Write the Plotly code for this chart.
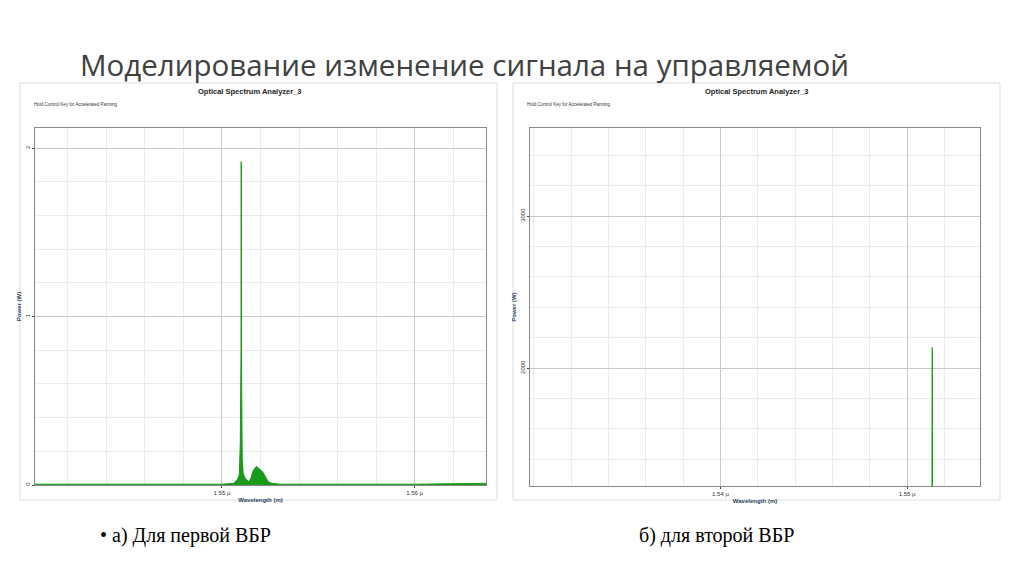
import plotly.graph_objects as go

# Left spectrum (first FBG): wavelength (µm), power (W)
wl_a = [1.5403, 1.5500, 1.5506, 1.5508, 1.55090, 1.55095, 1.55099, 1.55100, 1.55101, 1.55105, 1.5511, 1.5512, 1.5513, 1.5514, 1.5515, 1.5516, 1.5517, 1.5518, 1.5519, 1.5520, 1.5521, 1.5522, 1.5523, 1.5524, 1.5526, 1.5530, 1.5600, 1.5637]
pw_a = [0.005, 0.005, 0.01, 0.03, 0.06, 0.25, 0.8, 1.92, 0.8, 0.15, 0.07, 0.04, 0.03, 0.02, 0.04, 0.08, 0.10, 0.11, 0.10, 0.09, 0.08, 0.06, 0.04, 0.02, 0.01, 0.005, 0.005, 0.01]
# Right spectrum (second FBG)
wl_b = [1.5298, 1.55133, 1.55134, 1.55135, 1.55136, 1.5539]
pw_b = [0, 0, 2138, 2100, 0, 0]

xt_a = [1.55, 1.56]; xl_a = ["1.55 µ", "1.56 µ"]
yt_a = [0, 1, 2]; yl_a = ["0", "1", "2"]
xt_b = [1.54, 1.55]; xl_b = ["1.54 µ", "1.55 µ"]
yt_b = [2000, 3000]; yl_b = ["2000", "3000"]

GREEN = "#1a9a1a"
fig = go.Figure()
fig.add_trace(go.Scatter(x=wl_a, y=pw_a, mode="lines", line=dict(color=GREEN, width=1), fill="tozeroy", fillcolor=GREEN, xaxis="x", yaxis="y", showlegend=False))
fig.add_trace(go.Scatter(x=wl_b, y=pw_b, mode="lines", line=dict(color=GREEN, width=1.2), xaxis="x2", yaxis="y2", showlegend=False))

def ax(mdt):
    return dict(showline=True, linecolor="#888", mirror=True, gridcolor="#c8c8c8", ticks="outside", ticklen=2,
                tickfont=dict(size=6, family="Liberation Sans", color="#333"), zeroline=False,
                minor=dict(showgrid=True, gridcolor="#ebebeb", dtick=mdt))
tf = dict(size=6, family="Liberation Sans")
fig.update_layout(
    width=1024, height=574, margin=dict(l=0, r=0, t=0, b=0), paper_bgcolor="white", plot_bgcolor="white",
    xaxis=dict(ax(0.002), domain=[0.0342, 0.4746], range=[1.5403, 1.5637], tickvals=xt_a, ticktext=xl_a,
               title=dict(text="<b>Wavelength (m)</b>", font=tf, standoff=2)),
    yaxis=dict(ax(0.2), domain=[0.155, 0.777], range=[0, 2.12], tickvals=yt_a, ticktext=yl_a, tickangle=-90,
               title=dict(text="<b>Power (W)</b>", font=tf, standoff=2)),
    xaxis2=dict(ax(0.002), domain=[0.5176, 0.957], range=[1.5298, 1.5539], tickvals=xt_b, ticktext=xl_b, anchor="y2",
                title=dict(text="<b>Wavelength (m)</b>", font=tf, standoff=2)),
    yaxis2=dict(ax(200), domain=[0.153, 0.777], range=[1224, 3579], tickvals=yt_b, ticktext=yl_b, tickangle=-90, anchor="x2",
                title=dict(text="<b>Power (W)</b>", font=tf, standoff=2)),
)
def note(x, y, text, size, family, color, xanchor="left"):
    fig.add_annotation(x=x/1024, y=1-y/574, xref="paper", yref="paper", xanchor=xanchor, yanchor="middle",
                       showarrow=False, text=text, font=dict(size=size, family=family, color=color))
note(78, 65, "Моделирование изменение сигнала на управляемой", 29.5, "Open Sans", "#404040")
for x0, x1, cx in [(20, 497, 250), (513, 1000, 757)]:
    fig.add_shape(type="rect", xref="paper", yref="paper", x0=x0/1024, x1=x1/1024, y0=1-500/574, y1=1-83/574,
                  line=dict(color="#dddddd", width=1))
    note(cx, 91, "<b>Optical Spectrum Analyzer_3</b>", 7.5, "Liberation Sans", "#222", "center")
    note(x0+12, 104, "Hold Control Key for Accelerated Panning", 4.5, "Liberation Sans", "#333")
note(98, 535, "• а) Для первой ВБР", 20, "Liberation Serif", "black")
note(637, 535, "б) для второй ВБР", 20, "Liberation Serif", "black")
fig.write_html("out.html", post_script="document.body.style.margin='0';", config={"displayModeBar": False})
